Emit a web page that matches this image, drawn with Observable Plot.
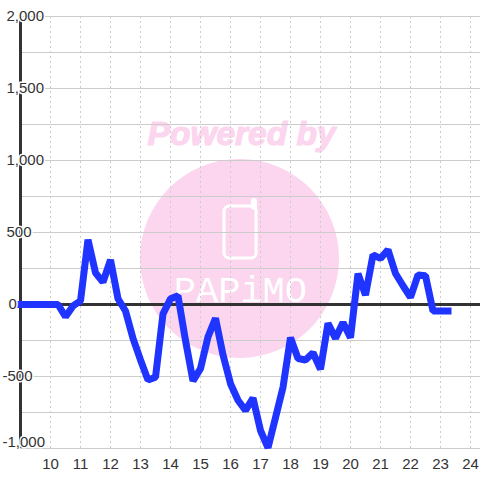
<!DOCTYPE html>
<html><head><meta charset="utf-8">
<script src="https://cdn.jsdelivr.net/npm/d3@7"></script>
<script src="https://cdn.jsdelivr.net/npm/@observablehq/plot@0.6"></script>
<style>html,body{margin:0;padding:0;background:#fff}svg{display:block}</style>
</head><body><div id="chart"></div>
<script>
const hours = d3.range(9, 23.5, 0.25);
const values = [0,0,0,0,0,0,
  -85,-10,25,450,220,155,310,40,-45,-235,-385,-525,-505,-65,40,60,-250,-530,-445,-225,-95,-350,-550,-665,-735,-650,-875,-995,-785,-575,-230,-375,-385,-335,-450,-130,-235,-125,-230,215,65,345,320,380,215,130,50,205,200,-45,-45,-45];
const data = hours.map((h,i)=>({h, v: values[i]}));
const minorY = [1750,1250,750,250,-250,-750];
const majorY = [2000,1500,1000,500,-500,-1000];
const ticksX = d3.range(10,25);
const posLabels = [2000,1500,1000,500];
const negLabels = [-500];
const ink = "#333";
const grid = "#ccc";
const blue = "#1f35ff";
const pink = "#fbd6ee";
const fmt = d3.format(",");
const font = "Liberation Sans";

const chart = Plot.plot({
  width: 480, height: 480,
  marginLeft: 20, marginRight: 0, marginTop: 16, marginBottom: 32,
  style: {fontFamily: font, background: "#fff"},
  x: {domain: [10,24], range: [50,470], axis: null},
  y: {domain: [-1000,2000], range: [448,16], axis: null},
  marks: [
    Plot.dot([{x:16.3,y:320}], {x:"x",y:"y",r:99.5,fill:pink,stroke:"none"}),
    Plot.text(["Powered by"], {x:[16.37],y:[1180],text:d=>d,fill:pink,stroke:pink,strokeWidth:1.2,fontSize:33.5,fontWeight:"bold",fontStyle:"italic"}),
    Plot.rect([{a:15.8,b:16.87,c:680,d:320}], {x1:"a",x2:"b",y1:"c",y2:"d",fill:"none",stroke:"#fff",strokeWidth:3,rx:5}),
    Plot.ruleX([16.78], {y1:675,y2:715,stroke:"#fff",strokeWidth:6,strokeLinecap:"round"}),
    Plot.text(["PAPiMO"], {x:[16.33],y:[97],text:d=>d,fill:"#fff",fontSize:37,fontFamily:"Liberation Mono"}),
    Plot.ruleY(majorY, {stroke:grid,strokeWidth:1}),
    Plot.ruleY(minorY, {stroke:grid,strokeWidth:1}),
    Plot.ruleX(ticksX, {y1:-1000,y2:2000,stroke:grid,strokeWidth:1,strokeDasharray:"2,3"}),
    Plot.ruleX([9], {y1:-1000,y2:2000,stroke:ink,strokeWidth:3}),
    Plot.ruleY([0], {stroke:ink,strokeWidth:3}),
    Plot.line(data, {x:"h",y:"v",stroke:blue,strokeWidth:7,strokeLinejoin:"bevel",strokeLinecap:"square"}),
    Plot.text(posLabels, {y:d=>d,frameAnchor:"left",dx:-14,textAnchor:"start",text:fmt,fill:ink,fontSize:15,stroke:"#fff",strokeWidth:3}),
    Plot.text([0], {y:d=>d,frameAnchor:"left",dx:-12,textAnchor:"start",text:fmt,fill:ink,fontSize:15,stroke:"#fff",strokeWidth:3}),
    Plot.text(negLabels, {y:d=>d,frameAnchor:"left",dx:-18,textAnchor:"start",text:d=>fmt(d).replace("−","-"),fill:ink,fontSize:15,stroke:"#fff",strokeWidth:3}),
    Plot.text([-1000], {y:d=>d,dy:-6,frameAnchor:"left",dx:-18,textAnchor:"start",text:d=>fmt(d).replace("−","-"),fill:ink,fontSize:15,stroke:"#fff",strokeWidth:3}),
    Plot.text(ticksX, {x:d=>d,y:-1000,dy:16,text:d=>String(d),fill:ink,fontSize:15})
  ]
});
document.getElementById("chart").append(chart);
</script></body></html>
